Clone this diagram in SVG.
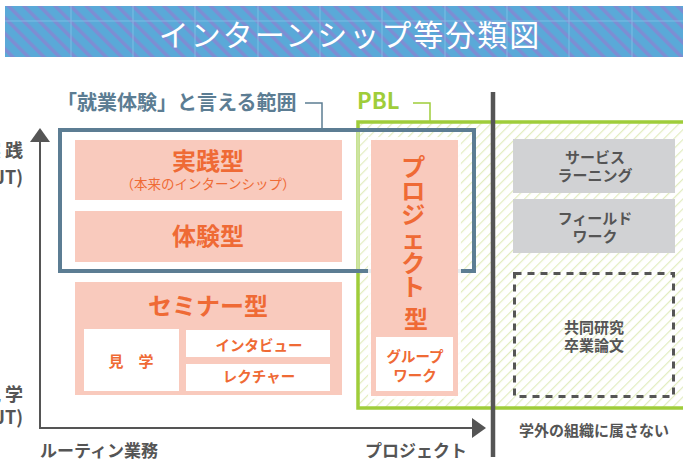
<svg xmlns="http://www.w3.org/2000/svg" width="683" height="466" viewBox="0 0 683 466">
<defs>
<style>
text{font-family:"Noto Sans CJK JP","Noto Sans",sans-serif;}
.b{font-weight:700;}
.or{fill:#ef6a35;text-anchor:middle;font-weight:700;}
.gy{fill:#555;text-anchor:middle;font-weight:700;}
.pink{fill:#f9cabd;}
.wbox{fill:#fff;}
.gbox{fill:#d1d2d4;}
.ax{stroke:#555;stroke-width:2;fill:none;}
</style>
<pattern id="stripes" patternUnits="userSpaceOnUse" width="11" height="11" patternTransform="rotate(-45)">
<rect width="11" height="11" fill="#5aa9d8"/>
<rect x="0" y="0" width="3.5" height="11" fill="#7e8dd3"/>
</pattern>
<pattern id="hatch" patternUnits="userSpaceOnUse" width="7" height="7" patternTransform="rotate(45)">
<rect width="7" height="7" fill="#fff"/>
<rect x="0" y="0" width="1.2" height="7" fill="#e2edc0"/>
</pattern>
<marker id="arr" markerUnits="userSpaceOnUse" markerWidth="16" markerHeight="22" refX="0" refY="10" orient="auto">
<path d="M0,0 L14,10 L0,20 z" fill="#555"/>
</marker>
</defs>

<g id="title">
<rect x="5" y="6" width="678" height="51" fill="url(#stripes)"/>
<g stroke="#86c4e8" stroke-width="1" opacity="0.8">
<line x1="5" y1="21" x2="683" y2="21"/>
<line x1="71" y1="6" x2="71" y2="57"/>
<line x1="133" y1="6" x2="133" y2="57"/>
<line x1="195" y1="6" x2="195" y2="57"/>
<line x1="258" y1="6" x2="258" y2="57"/>
<line x1="320" y1="6" x2="320" y2="57"/>
<line x1="382" y1="6" x2="382" y2="57"/>
<line x1="445" y1="6" x2="445" y2="57"/>
<line x1="507" y1="6" x2="507" y2="57"/>
<line x1="569" y1="6" x2="569" y2="57"/>
<line x1="632" y1="6" x2="632" y2="57"/>
</g>
<text x="350" y="46" font-size="30" fill="#fff" text-anchor="middle" letter-spacing="2">インターンシップ等分類図</text>
</g>

<g id="pbl-area">
<rect x="358" y="122" width="330" height="286" fill="url(#hatch)" stroke="#9fcd3a" stroke-width="3.5"/>
<line x1="358" y1="131" x2="358" y2="271" stroke="#cde4a0" stroke-width="3.5"/>
<text x="357" y="109" font-size="22" class="b" fill="#9fcd3a" font-family="'Noto Sans','Liberation Sans',sans-serif">PBL</text>
</g>

<g id="shugyo-area">
<rect x="60" y="130" width="414" height="141" fill="none" stroke="#5c7d93" stroke-width="4"/>
<text x="57" y="110" font-size="20" class="b" fill="#5c7d93">「就業体験」と言える範囲</text>
</g>

<g id="jissen">
<rect x="75" y="140" width="267" height="60" class="pink"/>
<text x="208" y="170" font-size="24" class="or">実践型</text>
<text x="208" y="189" font-size="13.5" fill="#ef6a35" text-anchor="middle">（本来のインターンシップ）</text>
</g>

<g id="taiken">
<rect x="75" y="211" width="267" height="51" class="pink"/>
<text x="208" y="245" font-size="24" class="or">体験型</text>
</g>

<g id="seminar">
<rect x="75" y="282" width="267" height="113" class="pink"/>
<text x="208" y="315" font-size="24" class="or">セミナー型</text>
</g>
<g id="kengaku">
<rect x="84" y="329" width="95" height="62" class="wbox"/>
<text x="131" y="367" font-size="15" class="or">見　学</text>
</g>
<g id="interview">
<rect x="186" y="330" width="144" height="27" class="wbox"/>
<text x="259" y="351" font-size="14.5" class="or">インタビュー</text>
</g>
<g id="lecture">
<rect x="186" y="364" width="144" height="27" class="wbox"/>
<text x="259" y="382" font-size="14.5" class="or">レクチャー</text>
</g>

<g id="project">
<rect x="368" y="137" width="93" height="262" fill="#fff" opacity="0.85"/>
<rect x="371" y="140" width="87" height="256" class="pink"/>
<text font-size="24" class="or">
<tspan x="416" y="176">プ</tspan>
<tspan x="416" y="200">ロ</tspan>
<tspan x="416" y="224">ジ</tspan>
<tspan x="416" y="248">ェ</tspan>
<tspan x="416" y="272">ク</tspan>
<tspan x="416" y="296">ト</tspan>
<tspan x="416" y="328">型</tspan>
</text>
</g>
<g id="groupwork">
<rect x="376" y="337" width="77" height="54" class="wbox"/>
<text x="415" y="362" font-size="14.5" class="or">グループ</text>
<text x="415" y="381" font-size="14.5" class="or">ワーク</text>
</g>

<g id="service">
<rect x="513" y="139" width="162" height="54" class="gbox"/>
<text x="595" y="163" font-size="15" class="gy">サービス</text>
<text x="595" y="181" font-size="15" class="gy">ラーニング</text>
</g>
<g id="fieldwork">
<rect x="513" y="199" width="162" height="54" class="gbox"/>
<text x="595" y="224" font-size="15" class="gy">フィールド</text>
<text x="595" y="242" font-size="15" class="gy">ワーク</text>
</g>
<g id="research">
<rect x="514.5" y="273.5" width="159" height="123" fill="none" stroke="#555" stroke-width="3" stroke-dasharray="7 6"/>
<text x="594" y="333" font-size="15" class="gy">共同研究</text>
<text x="594" y="351" font-size="15" class="gy">卒業論文</text>
</g>

<g id="connectors">
<polyline points="305,103 322,103 322,128" fill="none" stroke="#5c7d93" stroke-width="1.5"/>
<polyline points="413,103 430,103 430,121" fill="none" stroke="#9fcd3a" stroke-width="1.5"/>
<line x1="493" y1="92" x2="493" y2="457" stroke="#555" stroke-width="4.5"/>
<line x1="40" y1="428" x2="40" y2="142" class="ax" marker-end="url(#arr)"/>
<line x1="39" y1="428" x2="472" y2="428" class="ax" marker-end="url(#arr)"/>
</g>

<g id="axis-labels">
<text x="27" y="157" font-size="18" class="b" fill="#555" text-anchor="end" letter-spacing="4">実践</text>
<text x="23" y="184" font-size="18" class="b" fill="#555" text-anchor="end">(OJT)</text>
<text x="27" y="401" font-size="18" class="b" fill="#555" text-anchor="end" letter-spacing="4">見学</text>
<text x="23" y="424" font-size="18" class="b" fill="#555" text-anchor="end">(Off-JT)</text>
<text x="40" y="457" font-size="17" class="b" fill="#555">ルーティン業務</text>
<text x="365" y="457" font-size="17" class="b" fill="#555">プロジェクト</text>
<text x="594" y="436" font-size="15" class="gy">学外の組織に属さない</text>
</g>
</svg>
